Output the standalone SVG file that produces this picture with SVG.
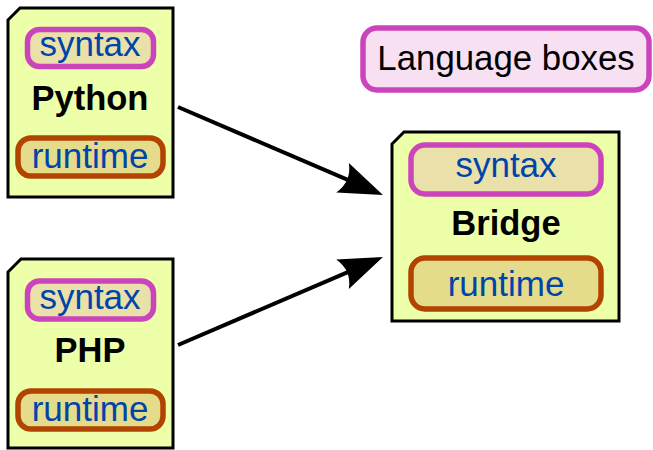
<svg xmlns="http://www.w3.org/2000/svg" width="653" height="450" viewBox="0 0 653 450">
  <style>
    .lang { fill: #eeffaa; stroke: #000; stroke-width: 3; }
    .syn { fill: #e9e1a9; stroke: #cc44bb; stroke-width: 5.5; }
    .rt { fill: #e4dc8a; stroke: #b04400; stroke-width: 5.5; }
    .lbl { font-family: "Liberation Sans", Arial, sans-serif; font-size: 35px; fill: #0044aa; text-anchor: middle; }
    .name { font-family: "Liberation Sans", Arial, sans-serif; font-size: 34.5px; font-weight: bold; fill: #000; text-anchor: middle; }
    .legend { fill: #f6e0f2; stroke: #cc44bb; stroke-width: 5.5; }
    .legend-text { font-family: "Liberation Sans", Arial, sans-serif; font-size: 34.8px; fill: #000; text-anchor: middle; }
    .edge { stroke: #000; stroke-width: 4; fill: none; }
  </style>
  <defs>
    <marker id="head" markerUnits="userSpaceOnUse" viewBox="-16 -20 50 40" markerWidth="50" markerHeight="40" refX="0" refY="0" orient="auto">
      <path d="M30,0 L-14,-16 Q-4,0 -14,16 Z" fill="#000"/>
    </marker>
  </defs>

  <rect width="653" height="450" fill="#fff"/>

  <g id="connectors">
    <line class="edge" x1="178" y1="107" x2="355.4" y2="183.2" marker-end="url(#head)"/>
    <line class="edge" x1="178" y1="345" x2="355.4" y2="268.8" marker-end="url(#head)"/>
  </g>

  <g id="python">
    <path class="lang" d="M8,20 L20,8 L173,8 L173,197 L8,197 Z"/>
    <rect class="syn" x="27.5" y="29.5" width="126" height="37" rx="12"/>
    <text class="lbl" x="90" y="56">syntax</text>
    <text class="name" x="90" y="110">Python</text>
    <rect class="rt" x="18" y="138" width="145" height="38" rx="13"/>
    <text class="lbl" x="90" y="168">runtime</text>
  </g>

  <g id="php">
    <path class="lang" d="M8,272 L21,259 L173,259 L173,448 L8,448 Z"/>
    <rect class="syn" x="27.5" y="281" width="126" height="38" rx="12"/>
    <text class="lbl" x="90" y="309">syntax</text>
    <text class="name" x="90" y="362">PHP</text>
    <rect class="rt" x="18" y="391" width="145" height="38" rx="13"/>
    <text class="lbl" x="90" y="421">runtime</text>
  </g>

  <g id="bridge">
    <path class="lang" d="M392,144 L404,132 L619,132 L619,321 L392,321 Z"/>
    <rect class="syn" x="411" y="145" width="190" height="49" rx="14"/>
    <text class="lbl" x="506" y="177">syntax</text>
    <text class="name" x="506" y="235">Bridge</text>
    <rect class="rt" x="411" y="258" width="190" height="51" rx="14"/>
    <text class="lbl" x="506" y="296">runtime</text>
  </g>

  <g id="legend">
    <rect class="legend" x="363" y="28" width="286" height="62" rx="14"/>
    <text class="legend-text" x="506" y="70">Language boxes</text>
  </g>
</svg>
